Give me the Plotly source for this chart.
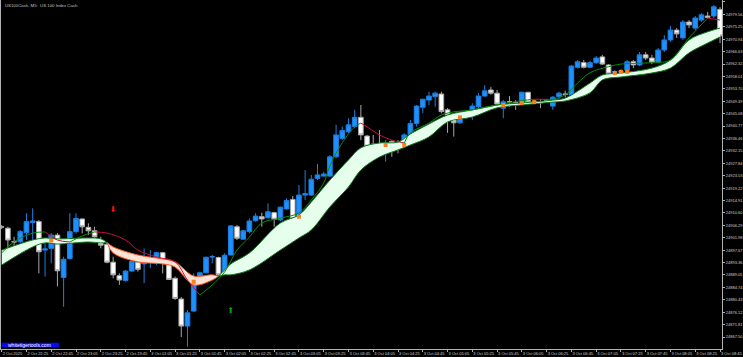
import plotly.graph_objects as go

# ---------------- data ----------------
bar_idx = list(range(117))
opens = [24905.8, 24905.3, 24900.6, 24900.6, 24903.7, 24907.3, 24907.6, 24897.7, 24898.3, 24902.9,
         24888.2, 24894.7, 24904.1, 24908.5, 24905.6, 24904.4, 24901.0, 24899.7, 24893.5, 24888.8,
         24887.1, 24890.4, 24893.5, 24892.9, 24894.2, 24895.2, 24896.8, 24893.1, 24887.9, 24880.7,
         24871.3, 24876.5, 24887.3, 24889.8, 24895.3, 24895.1, 24889.4, 24896.0, 24905.8, 24901.5,
         24904.1, 24907.9, 24909.3, 24908.9, 24910.7, 24908.2, 24912.0, 24915.3, 24909.3, 24916.8,
         24916.8, 24922.6, 24923.4, 24923.4, 24930.1, 24936.5, 24938.8, 24940.6, 24943.8, 24937.3,
         24934.5, 24933.8, 24933.5, 24935.4, 24934.4, 24934.8, 24937.7, 24941.7, 24947.3, 24949.8,
         24951.0, 24951.9, 24946.4, 24943.1, 24941.9, 24944.9, 24944.9, 24947.5, 24951.2, 24953.3,
         24952.2, 24947.0, 24949.3, 24948.9, 24948.7, 24952.5, 24949.2, 24949.0, 24949.8, 24947.7,
         24951.0, 24951.9, 24951.6, 24961.2, 24962.8, 24961.2, 24962.8, 24964.8, 24962.0, 24959.5,
         24959.6, 24960.2, 24963.1, 24962.0, 24965.5, 24964.4, 24963.0, 24967.2, 24970.7, 24974.1,
         24971.4, 24976.9, 24974.8, 24977.6, 24979.0, 24979.0, 24981.3]
highs = [24906.4, 24905.8, 24902.3, 24904.7, 24910.5, 24912.2, 24908.2, 24901.2, 24903.6, 24903.6,
         24895.4, 24910.5, 24910.5, 24908.7, 24907.0, 24905.8, 24902.3, 24900.2, 24895.4, 24889.6,
         24890.8, 24894.3, 24894.3, 24898.3, 24897.7, 24897.1, 24897.1, 24893.6, 24888.5, 24881.4,
         24876.9, 24889.6, 24890.2, 24895.4, 24896.0, 24895.4, 24896.6, 24906.4, 24906.4, 24904.7,
         24908.7, 24910.5, 24910.7, 24913.9, 24911.0, 24912.8, 24915.7, 24916.5, 24920.3, 24925.5,
         24923.8, 24927.6, 24924.9, 24930.7, 24941.2, 24940.6, 24943.5, 24946.4, 24948.1, 24937.7,
         24937.7, 24939.4, 24935.9, 24935.9, 24935.9, 24938.3, 24942.9, 24948.1, 24950.2, 24952.7,
         24952.7, 24952.7, 24947.0, 24944.0, 24945.3, 24945.7, 24948.7, 24952.2, 24955.0, 24954.4,
         24953.3, 24949.8, 24951.2, 24949.8, 24952.7, 24952.7, 24949.7, 24950.1, 24950.2, 24951.2,
         24952.7, 24953.1, 24962.0, 24963.7, 24963.7, 24963.4, 24965.1, 24965.5, 24962.3, 24960.2,
         24960.5, 24963.7, 24963.7, 24966.5, 24966.5, 24965.5, 24967.9, 24972.4, 24975.5, 24974.8,
         24977.6, 24977.6, 24979.0, 24980.0, 24980.4, 24982.8, 24982.1]
lows = [24905.0, 24898.3, 24897.7, 24900.2, 24901.2, 24900.1, 24889.6, 24888.5, 24893.1, 24885.1,
        24878.0, 24894.4, 24903.5, 24903.5, 24902.9, 24900.6, 24898.3, 24893.1, 24887.9, 24885.6,
        24886.7, 24890.2, 24890.2, 24886.2, 24891.4, 24892.5, 24889.6, 24887.3, 24880.4, 24867.5,
        24864.1, 24876.3, 24886.7, 24889.6, 24893.1, 24888.7, 24889.1, 24895.8, 24901.2, 24901.2,
        24903.5, 24907.6, 24905.8, 24908.7, 24905.8, 24907.8, 24911.6, 24906.4, 24907.6, 24915.1,
        24916.5, 24922.0, 24923.2, 24923.2, 24929.6, 24935.9, 24938.3, 24940.0, 24935.9, 24933.1,
        24929.0, 24932.5, 24928.4, 24930.1, 24931.3, 24933.1, 24937.1, 24940.6, 24945.3, 24948.1,
        24947.5, 24945.2, 24938.4, 24937.1, 24941.5, 24943.2, 24942.9, 24947.0, 24951.0, 24951.6,
        24947.5, 24943.5, 24947.5, 24946.4, 24948.1, 24948.7, 24949.0, 24947.0, 24949.5, 24946.4,
        24950.1, 24950.8, 24951.2, 24960.8, 24960.8, 24960.9, 24962.3, 24962.0, 24958.5, 24958.9,
        24959.0, 24959.6, 24960.9, 24961.6, 24963.7, 24962.3, 24962.7, 24966.5, 24970.0, 24971.4,
        24970.7, 24974.8, 24974.1, 24977.0, 24978.2, 24978.3, 24969.6]
closes = [24905.7, 24901.2, 24900.5, 24904.1, 24907.6, 24907.8, 24897.1, 24898.1, 24902.9, 24890.5,
          24894.5, 24904.1, 24908.7, 24905.8, 24904.4, 24902.3, 24899.4, 24893.5, 24889.1, 24887.3,
          24890.4, 24893.7, 24891.0, 24894.3, 24894.3, 24896.8, 24893.1, 24887.5, 24880.9, 24871.3,
          24875.9, 24887.5, 24889.8, 24895.2, 24895.4, 24889.1, 24895.9, 24906.1, 24901.8, 24904.4,
          24907.8, 24909.5, 24908.5, 24911.0, 24908.4, 24912.6, 24914.9, 24908.7, 24916.8, 24917.3,
          24922.3, 24923.8, 24924.1, 24930.1, 24937.7, 24939.2, 24941.2, 24943.8, 24937.7, 24933.8,
          24933.8, 24933.4, 24934.9, 24934.5, 24933.8, 24937.7, 24941.7, 24947.7, 24950.1, 24951.2,
          24952.2, 24945.8, 24944.6, 24941.9, 24944.6, 24943.9, 24947.7, 24951.2, 24953.0, 24952.2,
          24948.4, 24949.2, 24949.2, 24948.8, 24952.5, 24949.0, 24949.1, 24948.9, 24949.7, 24950.8,
          24952.2, 24951.8, 24961.6, 24963.1, 24961.2, 24962.8, 24964.4, 24962.3, 24958.9, 24959.6,
          24959.8, 24963.1, 24962.0, 24965.5, 24964.4, 24963.0, 24967.2, 24970.7, 24974.1, 24972.8,
          24976.9, 24975.9, 24978.3, 24979.4, 24978.5, 24982.2, 24972.1]

# ribbon (two smoothed averages), sampled at these bars
rib_x = [0, 5, 7, 9, 14, 16, 17, 18, 22, 26, 28, 31, 34, 35, 36, 37, 40, 45, 48, 50, 53, 56, 58, 61,
         64, 66, 69, 72, 76, 80, 84, 89, 91, 95, 97, 100, 105, 108, 111, 114, 116]
rib_fast = [24897.7, 24901.2, 24901.9, 24901.6, 24901.9, 24901.6, 24900.3, 24896.7, 24893.6, 24892.9,
            24891.8, 24885.6, 24887.3, 24888.6, 24890.8, 24892.9, 24896.7, 24907.1, 24909.9, 24914.4,
            24922.0, 24929.0, 24933.2, 24934.9, 24935.2, 24938.0, 24941.5, 24944.6, 24946.4, 24948.1,
            24948.8, 24949.8, 24950.5, 24955.7, 24958.5, 24959.2, 24960.9, 24963.7, 24970.7, 24973.5,
            24974.8]
rib_slow = [24892.5, 24898.8, 24900.2, 24899.8, 24900.5, 24900.2, 24900.3, 24898.8, 24896.0, 24894.6,
            24893.6, 24888.7, 24889.1, 24888.6, 24889.1, 24889.1, 24890.8, 24897.7, 24901.9, 24904.7,
            24912.7, 24919.6, 24925.5, 24930.0, 24932.5, 24934.2, 24937.0, 24942.2, 24943.9, 24947.1,
            24948.1, 24949.1, 24949.5, 24952.3, 24956.8, 24957.8, 24959.2, 24960.9, 24966.2, 24969.6,
            24971.7]

# fast signal line
sig_x = [0, 2, 5, 7, 9, 11, 13, 15, 17, 20, 22, 25, 28, 30, 32, 34, 36, 38, 40, 42, 45, 48, 50, 52,
         53, 55, 57, 58, 59, 61, 63, 65, 66, 69, 71, 73, 76, 80, 84, 86, 89, 91, 93, 95, 98, 100, 105,
         108, 111, 114, 116]
sig_y = [24896.7, 24900.6, 24903.6, 24904.0, 24901.2, 24900.5, 24902.6, 24904.0, 24903.6, 24901.2,
         24897.7, 24895.3, 24893.6, 24887.3, 24882.1, 24885.6, 24890.1, 24897.7, 24902.2, 24907.1,
         24908.8, 24910.6, 24915.1, 24921.0, 24927.0, 24935.0, 24940.5, 24941.8, 24940.5, 24937.7,
         24935.9, 24934.9, 24938.4, 24941.8, 24944.6, 24945.7, 24946.4, 24948.1, 24949.6, 24950.1,
         24950.0, 24951.6, 24955.7, 24959.3, 24961.4, 24962.3, 24962.8, 24963.7, 24971.4, 24978.3,
         24977.6]

# touch markers
dot_x = [8, 31, 48, 62, 65, 74, 81, 84, 86, 99, 100, 101]
dot_y = [24901.0, 24886.7, 24909.3, 24934.2, 24934.2, 24943.8, 24948.1, 24948.8, 24949.1, 24959.2,
         24959.6, 24959.6]

# arrows
sell_x, sell_y = [18], [24911.6]
buy_x, buy_y = [37], [24876.7]

ytick_vals = [24983.87, 24979.56, 24975.25, 24970.94, 24966.63, 24962.32, 24958.01, 24953.70,
              24949.39, 24945.08, 24940.77, 24936.46, 24932.15, 24927.84, 24923.53, 24919.22,
              24914.91, 24910.60, 24906.29, 24901.98, 24897.67, 24893.36, 24889.05, 24884.74,
              24880.43, 24876.12, 24871.81, 24867.50]
xtick_labels = ["2 Oct 2025", "2 Oct 22:25", "2 Oct 22:45", "2 Oct 23:05", "2 Oct 23:25",
                "2 Oct 23:45", "3 Oct 01:05", "3 Oct 01:25", "3 Oct 01:45", "3 Oct 02:05",
                "3 Oct 02:25", "3 Oct 02:45", "3 Oct 03:05", "3 Oct 03:25", "3 Oct 03:45",
                "3 Oct 04:05", "3 Oct 04:25", "3 Oct 04:45", "3 Oct 05:05", "3 Oct 05:25",
                "3 Oct 05:45", "3 Oct 06:05", "3 Oct 06:25", "3 Oct 06:45", "3 Oct 07:05",
                "3 Oct 07:25", "3 Oct 07:45", "3 Oct 08:05", "3 Oct 08:25", "3 Oct 08:45"]
xtick_vals = list(range(0, 117, 4))

# ---------------- figure ----------------
fig = go.Figure()

fig.add_trace(go.Candlestick(
    x=bar_idx, open=opens, high=highs, low=lows, close=closes,
    increasing=dict(line=dict(color="#1E7FE0", width=1), fillcolor="#1E90FF"),
    decreasing=dict(line=dict(color="#A8A8A8", width=1), fillcolor="#FFFFFF"),
    whiskerwidth=0, hoverinfo="skip"))

# ribbon segments split at crossing points
segments, cur = [], [0]
for k in range(1, len(rib_x)):
    cur.append(k)
    if rib_fast[k] == rib_slow[k] and k != len(rib_x) - 1:
        segments.append(cur)
        cur = [k]
segments.append(cur)
for seg in segments:
    bull = any(rib_fast[k] > rib_slow[k] for k in seg)
    edge = "#0E7A1E" if bull else "#FF5522"
    fillc = "#E6FFEC" if bull else "#FFE2D4"
    xs = [rib_x[k] for k in seg]
    fig.add_trace(go.Scatter(x=xs, y=[rib_slow[k] for k in seg], mode="lines",
                             line=dict(color=edge, width=1, shape="spline"), hoverinfo="skip"))
    fig.add_trace(go.Scatter(x=xs, y=[rib_fast[k] for k in seg], mode="lines", fill="tonexty",
                             fillcolor=fillc, line=dict(color=edge, width=1, shape="spline"),
                             hoverinfo="skip"))

# signal line coloured by direction
groups, cur, cur_up = [], [0], None
for k in range(1, len(sig_x)):
    up = sig_y[k] > sig_y[k - 1]
    if cur_up is None or up == cur_up:
        cur.append(k)
    else:
        groups.append((cur, cur_up))
        cur = [k - 1, k]
    cur_up = up
groups.append((cur, cur_up))
for g, up in groups:
    fig.add_trace(go.Scatter(x=[sig_x[k] for k in g], y=[sig_y[k] for k in g], mode="lines",
                             line=dict(color="#0A8A0A" if up else "#C8103C", width=1, shape="spline"),
                             hoverinfo="skip"))

fig.add_trace(go.Scatter(x=dot_x, y=dot_y, mode="markers",
                         marker=dict(symbol="square", size=4, color="#FF7F1E"), hoverinfo="skip"))
fig.add_trace(go.Scatter(x=sell_x, y=sell_y, mode="text", text=["\u2B07"],
                         textfont=dict(size=8, color="#FF1010", family="DejaVu Sans"),
                         hoverinfo="skip"))
fig.add_trace(go.Scatter(x=buy_x, y=buy_y, mode="text", text=["\u2B06"],
                         textfont=dict(size=8, color="#10A010", family="DejaVu Sans"),
                         hoverinfo="skip"))

axis_col = "#B0B0B0"
fig.update_layout(
    width=743, height=357,
    margin=dict(l=1, r=21, t=0, b=8),
    paper_bgcolor="black", plot_bgcolor="black",
    showlegend=False,
    boxgap=0.2, boxgroupgap=0.06,
    xaxis=dict(range=[-0.113, 116.32], showgrid=False, zeroline=False, automargin=False,
               tickmode="array", tickvals=xtick_vals, ticktext=xtick_labels, tickangle=0,
               ticks="outside", ticklen=2, tickcolor=axis_col, tickwidth=1,
               tickfont=dict(size=4, color="#D0D0D0", family="Arial"),
               ticklabelposition="outside right", showline=True, linecolor=axis_col,
               linewidth=1, rangeslider=dict(visible=False), fixedrange=True),
    yaxis=dict(side="right", range=[24863.34, 24984.56], showgrid=False, zeroline=False,
               automargin=False,
               tickmode="array", tickvals=ytick_vals, ticktext=[f"{v:.2f}" for v in ytick_vals],
               ticks="outside", ticklen=2, tickcolor=axis_col, tickwidth=1,
               tickfont=dict(size=4, color="#D0D0D0", family="Arial"),
               showline=True, mirror=True, linecolor=axis_col, linewidth=1, fixedrange=True),
)

fig.add_annotation(text="US100Cash, M5:  US 100 Index Cash", xref="paper", yref="paper",
                   x=0.003, y=1, xanchor="left", yanchor="top", yshift=-1, showarrow=False,
                   font=dict(size=4.3, color="#C0C0C0", family="Arial"))
fig.add_shape(type="rect", xref="paper", yref="paper", x0=0.001, x1=0.0804, y0=0.0049, y1=0.018,
              fillcolor="#0A0AF0", line=dict(width=0))
fig.add_annotation(text="whitetigertools.com", xref="paper", yref="paper", x=0.0402, y=0.0115,
                   xanchor="center", yanchor="middle", showarrow=False,
                   font=dict(size=5, color="#FFFFFF", family="Arial"))

fig.write_html("out.html")
